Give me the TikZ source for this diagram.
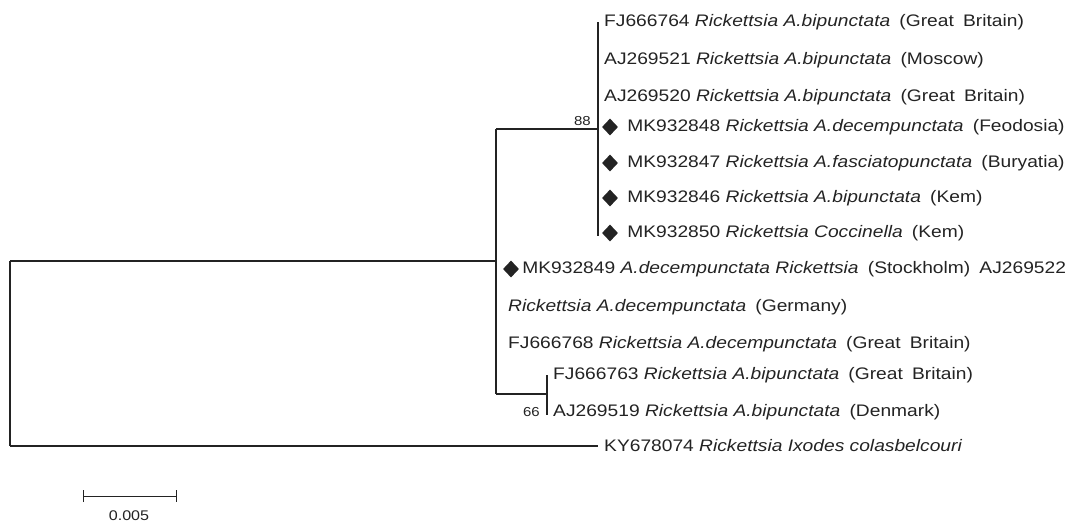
\documentclass[tikz,border=0pt]{standalone}
\usepackage{fontspec}
\setmainfont[FakeStretch=1.15]{Liberation Sans}
\usetikzlibrary{shapes.geometric,arrows.meta,positioning}
\definecolor{treegray}{RGB}{35,35,35}
\newcommand{\gap}{\hspace{0.55em}}

\begin{document}
\begin{tikzpicture}[x=1pt, y=-1pt, font=\fontsize{16.7}{19}\selectfont,
  branch/.style={treegray, line width=1.3pt},
  leaf/.style={anchor=west, inner xsep=6pt, inner ysep=0pt, text=treegray},
  marker/.style={diamond, fill=treegray, inner sep=0pt, minimum width=16pt, minimum height=17pt},
  boot/.style={font=\fontsize{13}{15}\selectfont, text=treegray, inner sep=0pt}]

  \useasboundingbox (0,0) rectangle (1071,523);

  % --- Parameters (pixel positions) ---
  \pgfmathsetmacro{\xroot}{10}   % root
  \pgfmathsetmacro{\xin}{496}    % ingroup node
  \pgfmathsetmacro{\xa}{598}     % clade 88 / outgroup tip
  \pgfmathsetmacro{\xb}{547}     % clade 66

  % --- Internal nodes ---
  \coordinate (rootT) at (\xroot,261);
  \coordinate (rootB) at (\xroot,446);
  \coordinate (inR)   at (\xin,261);
  \coordinate (inT)   at (\xin,129);
  \coordinate (inB)   at (\xin,394);
  \coordinate (c88)   at (\xa,129);
  \coordinate (c88T)  at (\xa,22);
  \coordinate (c88B)  at (\xa,236);
  \coordinate (c66)   at (\xb,394);
  \coordinate (c66T)  at (\xb,375);
  \coordinate (c66B)  at (\xb,415);

  % --- Clade 88 ---
  \node[leaf] (fj764) at (\xa,22) {FJ666764 \textit{Rickettsia A.bipunctata}\gap(Great\gap Britain)};
  \node[leaf] (aj521) at (\xa,60) {AJ269521 \textit{Rickettsia A.bipunctata}\gap(Moscow)};
  \node[leaf] (aj520) at (\xa,97) {AJ269520 \textit{Rickettsia A.bipunctata}\gap(Great\gap Britain)};
  \node[marker] (m848) at (\xa+12,127) {};
  \node[leaf, right=3pt of m848] (mk848) {MK932848 \textit{Rickettsia A.decempunctata}\gap(Feodosia)};
  \node[marker] (m847) at (\xa+12,163) {};
  \node[leaf, right=3pt of m847] (mk847) {MK932847 \textit{Rickettsia A.fasciatopunctata}\gap(Buryatia)};
  \node[marker] (m846) at (\xa+12,198) {};
  \node[leaf, right=3pt of m846] (mk846) {MK932846 \textit{Rickettsia A.bipunctata}\gap(Kem)};
  \node[marker] (m850) at (\xa+12,233) {};
  \node[leaf, right=3pt of m850] (mk850) {MK932850 \textit{Rickettsia Coccinella}\gap(Kem)};

  % --- Ingroup leaves ---
  \node[marker] (m849) at (\xin+15,269) {};
  \node[leaf, right=-3pt of m849] (mk849) {MK932849 \textit{A.decempunctata Rickettsia}\gap(Stockholm)\gap AJ269522};
  \node[leaf] (ger) at (\xin+6,307) {\textit{Rickettsia A.decempunctata}\gap(Germany)};
  \node[leaf] (fj768) at (\xin+6,344) {FJ666768 \textit{Rickettsia A.decempunctata}\gap(Great\gap Britain)};

  % --- Clade 66 ---
  \node[leaf] (fj763) at (\xb,375) {FJ666763 \textit{Rickettsia A.bipunctata}\gap(Great\gap Britain)};
  \node[leaf] (aj519) at (\xb,412) {AJ269519 \textit{Rickettsia A.bipunctata}\gap(Denmark)};

  % --- Outgroup ---
  \node[leaf] (ky) at (\xa,446) {KY678074 \textit{Rickettsia Ixodes colasbelcouri}};

  % --- Branches ---
  \draw[branch] (rootT) -- (rootB);
  \draw[branch] (rootT) -- (inR);
  \draw[branch] (rootB) -- (ky.west);
  \draw[branch] (inT) -- (inB);
  \draw[branch] (inT) -- (c88);
  \draw[branch] (c88T) -- (c88B);
  \draw[branch] (inB) -- (c66);
  \draw[branch] (c66T) -- (c66B);

  % --- Bootstrap values ---
  \node[boot, anchor=south east] (b88) at (591,126) {88};
  \node[boot, anchor=east] (b66) at (540,412) {66};

  % --- Scale bar ---
  \coordinate (sbL) at (83,496);
  \coordinate (sbR) at (177,496);
  \draw[treegray, line width=1pt, {Bar[width=12pt]}-{Bar[width=12pt]}] (sbL) -- (sbR);
  \node[boot, font=\fontsize{14}{16}\selectfont] (sbLabel) at (129,516) {0.005};

\end{tikzpicture}
\end{document}
